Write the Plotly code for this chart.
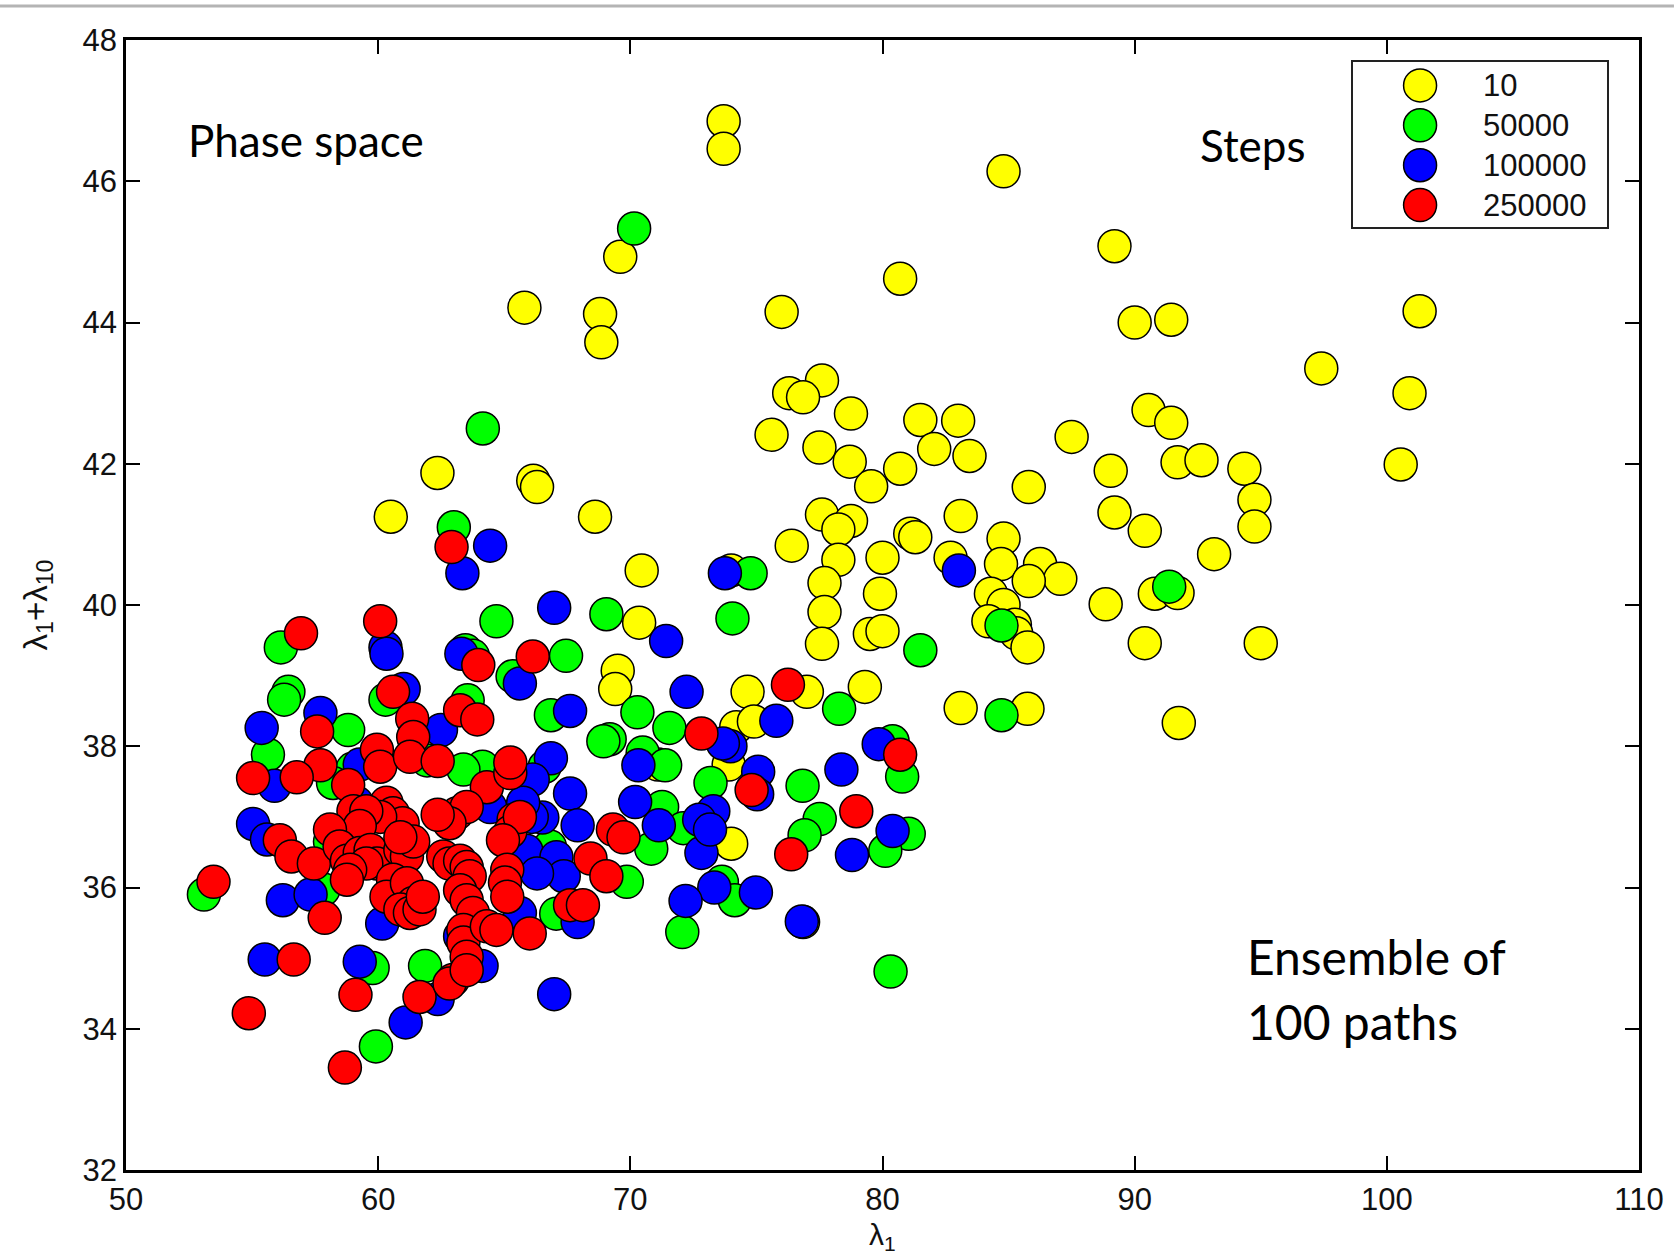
import plotly.graph_objects as go

# ---------------- data ----------------
step_labels = ["10", "50000", "100000", "250000"]
colors = ["#ffff00", "#00ff00", "#0000ff", "#ff0000"]

x_10 = [73.7, 73.7, 84.8, 89.2, 69.6, 80.7, 65.8, 68.8, 76.0, 90.0, 91.45, 101.3, 68.85, 97.4, 100.9,
        77.6, 76.3, 76.85, 78.75, 90.55, 91.45, 81.5, 83.0, 87.5, 75.6, 77.5, 82.05, 83.45, 78.7, 91.7,
        92.65, 94.35, 100.55, 80.7, 62.35, 66.15, 66.3, 79.55, 85.8, 89.05, 94.75, 89.2, 60.5, 68.6, 77.6,
        83.1, 78.75, 78.25, 94.75, 90.4, 81.1, 81.3, 84.8, 76.4, 70.45, 93.15, 80.0, 78.25, 82.7, 86.25,
        84.7, 74.0, 77.7, 87.05, 85.8, 84.3, 79.9, 90.8, 91.7, 84.8, 88.85, 77.7, 84.2, 85.25, 70.35,
        79.5, 80.0, 85.3, 77.6, 85.75, 90.4, 95.0, 69.5, 69.4, 74.65, 77.0, 79.3, 83.1, 85.75, 74.2,
        91.75, 74.9, 73.9, 71.1, 74.0, 76.85]
y_10 = [46.85, 46.46, 46.14, 45.08, 44.93, 44.62, 44.21, 44.12, 44.15, 44.0, 44.04, 44.16, 43.72, 43.35, 43.0,
        43.18, 43.0, 42.94, 42.71, 42.76, 42.58, 42.62, 42.61, 42.38, 42.41, 42.23, 42.21, 42.11, 42.03, 42.02,
        42.05, 41.93, 41.99, 41.93, 41.87, 41.76, 41.67, 41.68, 41.67, 41.9, 41.49, 41.31, 41.25, 41.25, 41.28,
        41.26, 41.19, 41.07, 41.11, 41.05, 41.01, 40.96, 40.94, 40.84, 40.49, 40.72, 40.67, 40.64, 40.67, 40.58,
        40.58, 40.49, 40.31, 40.37, 40.34, 40.16, 40.16, 40.16, 40.17, 40.0, 40.01, 39.9, 39.77, 39.72, 39.75,
        39.59, 39.63, 39.6, 39.45, 39.4, 39.46, 39.46, 39.07, 38.81, 38.77, 38.77, 38.84, 38.54, 38.53, 38.27,
        38.33, 38.35, 37.74, 37.74, 36.62, 35.51]

x_50000 = [70.15, 64.15, 63.0, 74.77, 91.37, 64.69, 69.05, 74.05, 56.14, 63.46, 63.76, 67.45, 81.5, 56.44,
           56.27, 60.29, 63.55, 70.28, 66.85, 78.28, 84.72, 71.55, 58.81, 69.18, 68.93, 70.49, 80.4, 55.63,
           58.98, 64.14, 66.6, 71.38, 80.78, 73.18, 76.83, 71.26, 77.51, 76.91, 81.04, 58.09, 66.81, 72.1,
           70.83, 80.11, 53.09, 57.83, 69.86, 73.63, 74.14, 67.06, 72.06, 59.78, 61.86, 80.32, 59.91, 65.33,
           63.38, 58.21, 61.94, 84.72]
y_50000 = [45.33, 42.5, 41.1, 40.45, 40.26, 39.77, 39.87, 39.81, 39.4, 39.36, 39.28, 39.28, 39.36, 38.77,
           38.66, 38.66, 38.65, 38.48, 38.44, 38.53, 38.44, 38.26, 38.23, 38.1, 38.07, 37.91, 38.07, 37.88,
           37.68, 37.71, 37.71, 37.73, 37.57, 37.48, 37.44, 37.14, 36.97, 36.74, 36.76, 36.65, 36.58, 36.84,
           36.55, 36.52, 35.9, 35.97, 36.08, 36.08, 35.82, 35.63, 35.37, 34.86, 34.89, 34.81, 33.75, 38.99,
           37.67, 37.48, 37.8, 39.71]

x_100000 = [64.44, 63.34, 66.98, 73.75, 83.03, 71.42, 63.3, 60.29, 65.62, 72.23, 61.01, 55.38, 57.71, 62.49,
            67.61, 75.79, 73.97, 66.85, 70.32, 75.07, 78.37, 79.85, 55.89, 67.61, 70.19, 66.13, 73.29, 72.73,
            55.04, 55.59, 71.13, 67.91, 66.51, 80.4, 72.82, 78.79, 65.88, 56.22, 57.32, 73.33, 72.19, 74.98,
            76.8, 67.91, 60.16, 55.5, 59.27, 62.36, 61.09, 66.98, 64.1, 63.25, 75.03, 67.07, 67.36, 66.09,
            66.3, 65.62, 73.67, 73.16, 60.33, 65.75, 64.44, 59.15, 59.27]
y_100000 = [40.84, 40.45, 39.96, 40.45, 40.49, 39.49, 39.31, 39.4, 38.89, 38.77, 38.81, 38.26, 38.47, 38.23,
            38.5, 38.36, 38.0, 37.83, 37.73, 37.64, 37.67, 38.03, 37.44, 37.33, 37.21, 37.53, 37.08, 36.96,
            36.9, 36.68, 36.88, 36.88, 36.99, 36.8, 36.49, 36.46, 36.52, 35.82, 35.9, 36.0, 35.81, 35.93,
            35.52, 35.51, 35.49, 34.98, 34.95, 34.42, 34.09, 34.49, 34.89, 35.31, 37.32, 36.43, 36.16, 37.0,
            36.2, 35.64, 38.04, 36.82, 39.31, 37.2, 37.14, 37.2, 37.74]

x_250000 = [62.91, 60.08, 56.94, 76.25, 72.82, 80.7, 74.81, 78.96, 76.38, 63.97, 66.13, 60.59, 61.35, 61.39,
            63.25, 63.93, 57.58, 59.95, 60.08, 61.26, 62.36, 57.71, 55.04, 56.77, 58.81, 64.31, 65.24, 65.24,
            65.37, 65.24, 65.62, 64.95, 63.13, 63.51, 62.83, 62.36, 60.33, 60.59, 60.97, 60.08, 59.02, 59.53,
            59.27, 58.09, 56.1, 56.56, 57.45, 58.47, 58.76, 59.27, 59.7, 59.95, 59.53, 58.89, 58.76, 60.88,
            61.14, 61.39, 60.88, 60.59, 60.33, 61.14, 61.39, 60.88, 61.26, 61.64, 61.77, 62.58, 62.83, 63.25,
            63.51, 63.63, 63.25, 63.51, 63.76, 63.38, 63.38, 63.51, 62.96, 64.31, 64.69, 65.12, 65.03, 65.12,
            66.01, 67.61, 68.12, 68.42, 69.05, 69.31, 69.73, 53.47, 57.88, 56.65, 59.1, 61.64, 62.83, 63.51,
            54.87, 58.68]
y_250000 = [40.82, 39.77, 39.6, 38.87, 38.18, 37.88, 37.38, 37.08, 36.47, 39.15, 39.27, 38.77, 38.39, 38.13,
            38.51, 38.38, 38.21, 37.95, 37.71, 37.85, 37.79, 37.73, 37.55, 37.56, 37.45, 37.42, 37.62, 37.77,
            36.96, 36.79, 37.0, 36.67, 37.05, 37.14, 36.91, 37.03, 37.2, 37.05, 36.91, 37.0, 37.08, 37.08,
            36.87, 36.82, 36.67, 36.44, 36.34, 36.58, 36.38, 36.49, 36.53, 36.34, 36.34, 36.25, 36.11, 36.53,
            36.44, 36.65, 36.71, 36.11, 35.87, 36.06, 35.78, 35.69, 35.64, 35.69, 35.87, 36.44, 36.34, 36.38,
            36.29, 36.16, 35.96, 35.82, 35.64, 35.4, 35.22, 35.02, 34.69, 35.45, 35.4, 36.25, 36.07, 35.87,
            35.35, 35.75, 35.75, 36.41, 36.16, 36.82, 36.71, 36.08, 35.57, 34.98, 34.48, 34.45, 34.64, 34.83,
            34.22, 33.45]

series_x = [x_10, x_50000, x_100000, x_250000]
series_y = [y_10, y_50000, y_100000, y_250000]

x_ticks = [50, 60, 70, 80, 90, 100, 110]
y_ticks = [32, 34, 36, 38, 40, 42, 44, 46, 48]

# ---------------- figure ----------------
MARKER_SIZE = 33
fig = go.Figure()

for lab, col, xs, ys in zip(step_labels, colors, series_x, series_y):
    fig.add_trace(go.Scatter(
        x=xs, y=ys, mode="markers", name=lab, showlegend=False,
        marker=dict(size=MARKER_SIZE, color=col, line=dict(color="black", width=1.5)),
        xaxis="x", yaxis="y"))

# legend drawn as a small inset axis so the swatches keep the full marker size
leg_rows = list(range(len(step_labels)))
for i, (lab, col) in enumerate(zip(step_labels, colors)):
    fig.add_trace(go.Scatter(
        x=[0], y=[leg_rows[i]], mode="markers", showlegend=False, hoverinfo="skip",
        marker=dict(size=MARKER_SIZE, color=col, line=dict(color="black", width=1.5)),
        xaxis="x2", yaxis="y2"))
    fig.add_annotation(x=1, y=leg_rows[i], xref="x2", yref="y2", text=lab, showarrow=False,
                       xanchor="left", yanchor="middle",
                       font=dict(family="Liberation Sans", size=31, color="#111"))

tick_font = dict(family="Liberation Sans", size=31, color="#111")
title_font = dict(family="Liberation Sans", size=33, color="#111")
fig.update_layout(
    width=1674, height=1255,
    margin=dict(l=126, r=35, t=40, b=85),
    paper_bgcolor="white", plot_bgcolor="white",
    showlegend=False,
    xaxis=dict(range=[50, 110], tickvals=x_ticks, ticktext=[str(v) for v in x_ticks],
               showline=True, linecolor="black", linewidth=2.5, mirror="ticks",
               ticks="inside", ticklen=14, tickwidth=1.5, tickcolor="black",
               showgrid=False, zeroline=False, tickfont=tick_font, ticklabelstandoff=0,
               automargin=False),
    yaxis=dict(range=[32, 48], tickvals=y_ticks, ticktext=[str(v) for v in y_ticks],
               showline=True, linecolor="black", linewidth=2.5, mirror="ticks",
               ticks="inside", ticklen=14, tickwidth=1.5, tickcolor="black",
               showgrid=False, zeroline=False, tickfont=tick_font, ticklabelstandoff=0,
               automargin=False,
               title=dict(text="λ<sub>1</sub>+λ<sub>10</sub>", font=title_font, standoff=26)),
    xaxis2=dict(domain=[0.811, 0.979], anchor="y2", range=[-1.098, 3.066],
                showline=True, mirror=True, linecolor="#222", linewidth=1.5,
                showticklabels=False, ticks="", showgrid=False, zeroline=False, fixedrange=True),
    yaxis2=dict(domain=[0.8345, 0.9805], anchor="x2", range=[3.549, -0.586],
                showline=True, mirror=True, linecolor="#222", linewidth=1.5,
                showticklabels=False, ticks="", showgrid=False, zeroline=False, fixedrange=True),
)

# x-axis title placed just under the tick labels
fig.add_annotation(xref="paper", yref="paper", x=0.5, y=-0.041, text="λ<sub>1</sub>",
                   showarrow=False, xanchor="center", yanchor="top",
                   font=dict(family="Liberation Sans", size=30, color="#111"))

# text labels on the chart
txt_font = dict(family="Lato", size=44, color="black")
big_font = dict(family="Lato", size=48, color="black")
fig.add_annotation(xref="paper", yref="paper", x=0.119, y=0.9115, text="Phase space",
                   showarrow=False, xanchor="center", yanchor="middle", font=txt_font)
fig.add_annotation(xref="paper", yref="paper", x=0.745, y=0.907, text="Steps",
                   showarrow=False, xanchor="center", yanchor="middle", font=txt_font)
fig.add_annotation(xref="paper", yref="paper", x=0.7396, y=0.189, text="Ensemble of",
                   showarrow=False, xanchor="left", yanchor="middle", font=big_font)
fig.add_annotation(xref="paper", yref="paper", x=0.7396, y=0.1315, text="100 paths",
                   showarrow=False, xanchor="left", yanchor="middle", font=big_font)

# thin grey rule across the top of the slide
fig.add_shape(type="line", xref="paper", yref="paper", x0=-0.0833, x1=1.0231, y0=1.0301, y1=1.0301,
              line=dict(color="#b4b4b4", width=3))

fig.write_html("out.html")
